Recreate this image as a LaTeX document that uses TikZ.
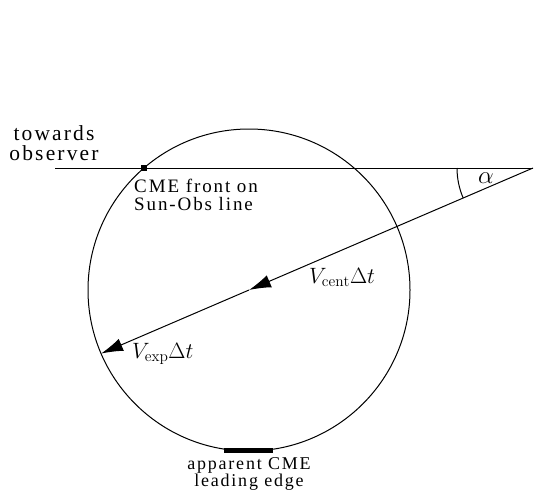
\documentclass[tikz,border=0pt]{standalone}
\usepackage{amsmath}
\usepackage{fontspec}
\newfontfamily\lblfont[LetterSpace=10]{Liberation Serif}
\usepackage{tikz}
\usetikzlibrary{calc,arrows.meta,positioning}
\newcommand{\biglbl}[2][1.07]{\scalebox{#1}{$#2$}}

\begin{document}
\begin{tikzpicture}[x=1pt, y=-1pt,
    every node/.style={font=\lblfont\fontsize{18}{17.5}\selectfont},
    lbl/.style={inner sep=0pt, align=center},
    mlbl/.style={inner sep=0pt, font=\fontsize{20.74}{22}\selectfont},
    ln/.style={line width=1pt},
    arr/.style={-{Latex[length=22pt,width=13pt]}, line width=1pt}
  ]
    \useasboundingbox (0,0) rectangle (534,496);
    \coordinate (ctr) at (249,290);
    \coordinate (apex) at (533,168);
    \coordinate (obs) at (55,168);
    \coordinate (front) at (144,168);
    \coordinate (rim) at ($(apex)!1.521!(ctr)$);
    \coordinate (edgeL) at (224,450.5);
    \coordinate (edgeR) at (273,450.5);
    \draw[ln] (ctr) circle[radius=161pt];
    \draw[ln] (obs) -- (apex);
    \draw[arr] (apex) -- (ctr);
    \draw[arr] (ctr) -- (rim);
    \draw[ln] ($(apex)+(-76,0)$) arc[start angle=180, end angle=203.25, radius=76pt];
    \node[fill, minimum size=6pt, inner sep=0pt] (frontmark) at (front) {};
    \draw[line width=5pt] (edgeL) -- (edgeR);
    \node[lbl, font=\lblfont\fontsize{21.5}{20.5}\selectfont] (toward) at (54,143) {towards\\observer};
    \node[lbl, align=left, anchor=west, font=\lblfont\fontsize{19}{17.5}\selectfont] (frontlbl) at (134,195) {CME front on\\Sun-Obs line};
    \node[lbl] (edgelbl) at (249,474) {apparent CME\\leading edge};
    \node[mlbl, anchor=base west] (vcent) at (309,283) {\biglbl{V_{\mathrm{cent}}\Delta t}};
    \node[mlbl, anchor=base west] (vexp) at (132,358) {\biglbl{V_{\mathrm{exp}}\Delta t}};
    \node[mlbl] (alpha) at (486,178) {\biglbl[1.2]{\alpha}};
\end{tikzpicture}
\end{document}
